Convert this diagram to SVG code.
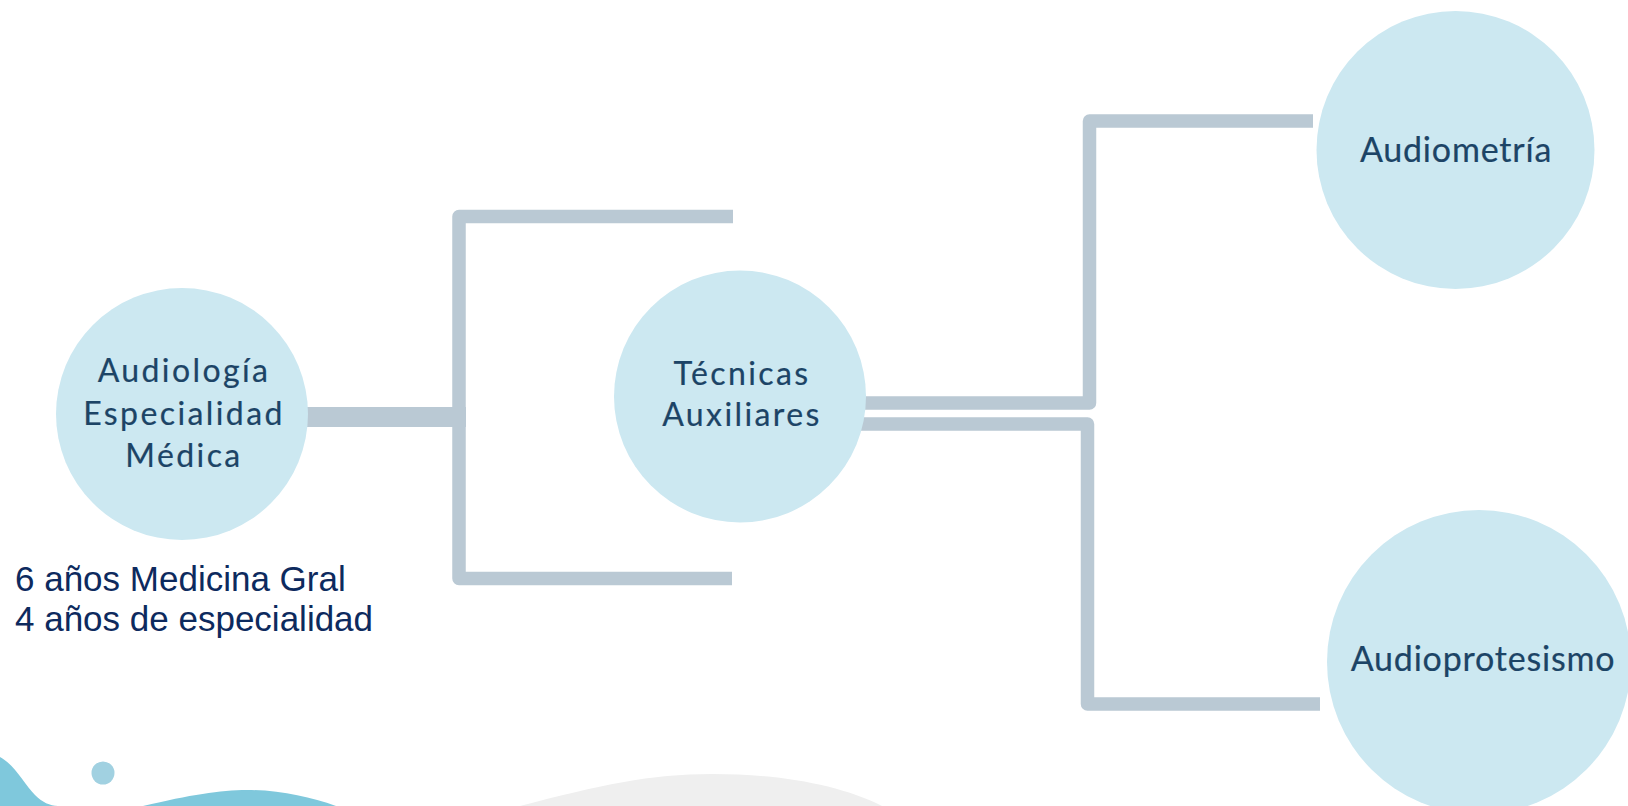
<svg xmlns="http://www.w3.org/2000/svg" width="1628" height="806" viewBox="0 0 1628 806">
  <style>
    .node { fill: #cce8f1; }
    .lbl { font-family: Lato, "Noto Sans", sans-serif; fill: #1c4466; stroke: #1c4466; stroke-width: 0.2px; text-anchor: middle; }
    .lbl-s { font-size: 32px; letter-spacing: 2.4px; }
    .lbl-l { font-size: 34px; letter-spacing: 0.8px; }
    .conn { fill: none; stroke: #bac9d4; stroke-width: 13.5; stroke-linejoin: round; stroke-linecap: butt; }
    .note { font-family: "Liberation Sans", Arial, sans-serif; font-size: 35px; fill: #0d2a5e; }
  </style>
  <rect width="1628" height="806" fill="#ffffff"/>
  <g id="decor">
    <path d="M0 757 C 15 765, 25 785, 35 795 C 42 802, 50 806, 58 806 L 0 806 Z" fill="#7fc8dc"/>
    <path d="M143 806 C 190 795, 220 790, 247 790 C 280 790, 310 797, 336 806 Z" fill="#7fc8dc"/>
    <circle cx="103" cy="773" r="11.5" fill="#a1d1e1"/>
    <path d="M520 806 C 600 785, 650 774, 712 774 C 780 774, 840 785, 882 806 Z" fill="#efefef"/>
  </g>
  <g id="connectors">
    <line x1="295" y1="417" x2="466" y2="417" stroke="#bac9d4" stroke-width="20"/>
    <path class="conn" d="M733 216.5 H459 V578.5 H732"/>
    <path class="conn" d="M860 403 H1089.5 V121 H1313"/>
    <path class="conn" d="M855 424 H1087.5 V704 H1320"/>
  </g>
  <g id="n-audiologia">
    <circle class="node" cx="182" cy="414" r="126"/>
    <text class="lbl lbl-s" x="184" y="382">Audiología</text>
    <text class="lbl lbl-s" x="184" y="425">Especialidad</text>
    <text class="lbl lbl-s" x="184" y="467">Médica</text>
  </g>
  <g id="n-tecnicas">
    <circle class="node" cx="740" cy="396.5" r="126"/>
    <text class="lbl lbl-s" x="742" y="385">Técnicas</text>
    <text class="lbl lbl-s" x="742" y="426">Auxiliares</text>
  </g>
  <g id="n-audiometria">
    <circle class="node" cx="1455.5" cy="150" r="139"/>
    <text class="lbl lbl-l" x="1456" y="162">Audiometría</text>
  </g>
  <g id="n-audioprotesismo">
    <circle class="node" cx="1479" cy="662" r="152"/>
    <text class="lbl lbl-l" x="1483" y="671">Audioprotesismo</text>
  </g>
  <g id="notes">
    <text class="note" x="15" y="591">6 años Medicina Gral</text>
    <text class="note" x="15" y="631">4 años de especialidad</text>
  </g>
</svg>
